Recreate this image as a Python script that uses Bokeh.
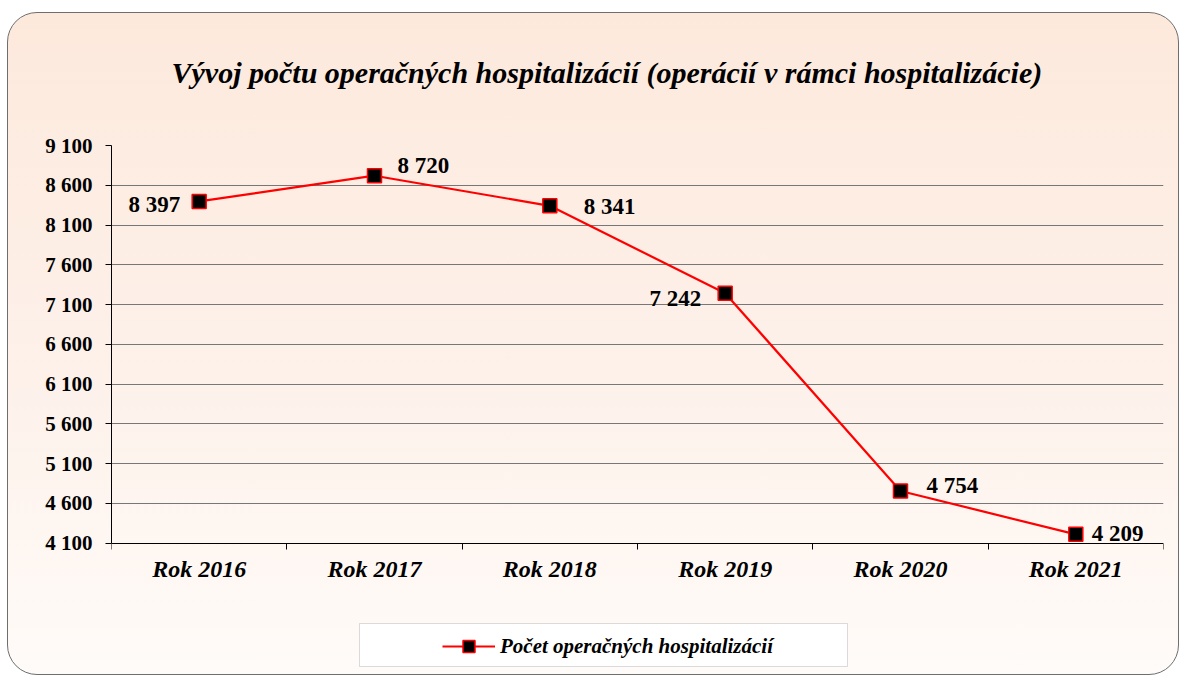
from bokeh.plotting import figure
from bokeh.models import (FixedTicker, Legend, LegendItem, BoxAnnotation,
                          ColumnDataSource, Range1d, Title)
from bokeh.core.properties import value
from bokeh.embed import file_html
from bokeh.resources import INLINE

# ---- data ----
years = ["Rok 2016", "Rok 2017", "Rok 2018", "Rok 2019", "Rok 2020", "Rok 2021"]
counts = [8397, 8720, 8341, 7242, 4754, 4209]
y_ticks = [4100, 4600, 5100, 5600, 6100, 6600, 7100, 7600, 8100, 8600, 9100]
y_tick_labels = ["4 100", "4 600", "5 100", "5 600", "6 100", "6 600",
                 "7 100", "7 600", "8 100", "8 600", "9 100"]
title_text = "Vývoj počtu operačných hospitalizácií  (operácií v rámci  hospitalizácie)"
series_name = "Počet operačných hospitalizácií"

# ---- label placement (layout only) ----
label_align = ["right", "left", "left", "right", "left", "left"]
label_dx = [-19, 23, 34, -24, 26, 16]
label_dy = [3, -10, 1, 5, -6, -1]

FONT = "Liberation Serif"
xs = list(range(len(years)))
labels = [f"{v:,}".replace(",", " ") for v in counts]

src = ColumnDataSource(dict(x=xs, y=counts, label=labels,
                            align=label_align, dx=label_dx, dy=label_dy))

# pixel layout: plot area 396 px tall for the axis span, frame extends
# further down (to hold category labels and legend) 526 px in total
AXIS_PX, FRAME_PX = 396, 526
y_lo = y_ticks[-1] - (y_ticks[-1] - y_ticks[0]) * FRAME_PX / AXIS_PX

p = figure(width=1172, height=663, output_backend="svg", toolbar_location=None,
           x_range=Range1d(-0.5, len(years) - 0.5),
           y_range=Range1d(y_lo, y_ticks[-1]),
           min_border_left=103, min_border_right=17,
           min_border_top=132, min_border_bottom=3)

p.background_fill_color = None
p.border_fill_color = None
p.outline_line_color = None
p.styles = {
    "background": "linear-gradient(to bottom, #FDE9DC 0%, #FDF1EA 55%, #FFFBF8 100%)",
    "border": "1px solid #6e6e6e",
    "border-radius": "30px",
    "margin-left": "7px",
    "margin-top": "12px",
}

# title (a spacer title next to the frame pushes the real one up)
p.title.visible = False
p.add_layout(Title(text=" ", text_font_size="2px", standoff=43), "above")
p.add_layout(Title(text=title_text, text_font=FONT, text_font_style="bold italic",
                   text_font_size="30px", align="left", offset=60, standoff=20,
                   text_color="black"), "above")

# y axis
p.yaxis.ticker = FixedTicker(ticks=y_ticks)
p.yaxis.bounds = (y_ticks[0], y_ticks[-1])
p.yaxis.major_label_overrides = dict(zip(y_ticks, y_tick_labels))
p.yaxis.major_label_text_font = FONT
p.yaxis.major_label_text_font_style = "bold"
p.yaxis.major_label_text_font_size = "21px"
p.yaxis.major_label_text_color = "black"
p.yaxis.axis_line_color = "black"
p.yaxis.major_tick_line_color = "black"
p.yaxis.major_tick_in = 0
p.yaxis.major_tick_out = 6
p.yaxis.minor_tick_line_color = None
p.yaxis.major_label_standoff = 13

# x axis (sits on the lowest y tick)
p.xaxis.fixed_location = y_ticks[0]
p.xaxis.ticker = FixedTicker(ticks=xs, minor_ticks=[i - 0.5 for i in range(len(years) + 1)])
p.xaxis.major_label_overrides = dict(zip(xs, years))
p.xaxis.major_label_text_font = FONT
p.xaxis.major_label_text_font_style = "bold italic"
p.xaxis.major_label_text_font_size = "24px"
p.xaxis.major_label_text_color = "black"
p.xaxis.axis_line_color = "black"
p.xaxis.major_tick_line_color = None
p.xaxis.minor_tick_line_color = "black"
p.xaxis.minor_tick_in = 0
p.xaxis.minor_tick_out = 6
p.xaxis.major_label_standoff = 7

p.xgrid.grid_line_color = None
p.ygrid.ticker = FixedTicker(ticks=y_ticks[1:])
p.ygrid.grid_line_color = "#777777"
p.ygrid.grid_line_width = 1

# series
ln = p.line("x", "y", source=src, line_color="#FF0000", line_width=2.2)
mk = p.scatter("x", "y", source=src, marker="square", size=14,
               fill_color="black", line_color="#FF0000", line_width=1.5)

p.text("x", "y", text="label", source=src, x_offset="dx", y_offset="dy",
       text_align="align", text_baseline="middle",
       text_font=value(FONT), text_font_style="bold", text_font_size="23px",
       text_color="black")

# legend box
box = BoxAnnotation(left=350, right=838, top=609, bottom=652,
                    left_units="canvas", right_units="canvas",
                    top_units="canvas", bottom_units="canvas",
                    fill_color="white", fill_alpha=1.0,
                    line_color="#8a8a8a", line_width=1)
p.add_layout(box)

legend = Legend(items=[LegendItem(label=series_name, renderers=[ln, mk])],
                location=(331, 12), orientation="horizontal",
                background_fill_color=None, border_line_color=None,
                padding=0, margin=0, glyph_width=53, glyph_height=30,
                label_height=30, label_standoff=5,
                label_text_font=FONT, label_text_font_style="bold italic",
                label_text_font_size="21px", label_text_color="black")
p.add_layout(legend)

open("out.html", "w").write(file_html(p, INLINE))
